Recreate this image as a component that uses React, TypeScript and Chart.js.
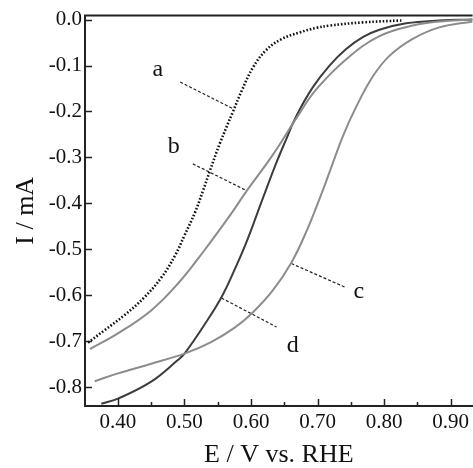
import React, { useEffect, useRef } from "react";
import { Chart, registerables } from "chart.js";

Chart.register(...registerables);

// Curve a (dotted)
const xA = [0.355, 0.38, 0.41, 0.44, 0.466, 0.486, 0.5, 0.516, 0.528, 0.538, 0.553, 0.573, 0.586, 0.603, 0.623, 0.645, 0.673, 0.698, 0.718, 0.768, 0.826];
const yA = [-0.703, -0.676, -0.643, -0.604, -0.56, -0.513, -0.47, -0.419, -0.372, -0.33, -0.27, -0.2, -0.155, -0.104, -0.066, -0.043, -0.028, -0.018, -0.013, -0.006, -0.002];
// Curve b
const xB = [0.358, 0.4, 0.45, 0.49, 0.53, 0.57, 0.593, 0.633, 0.668, 0.698, 0.744, 0.793, 0.843, 0.893, 0.933];
const yB = [-0.717, -0.683, -0.633, -0.575, -0.502, -0.423, -0.374, -0.294, -0.215, -0.152, -0.085, -0.036, -0.013, -0.003, 0.0];
// Curve c
const xC = [0.365, 0.4, 0.45, 0.5, 0.54, 0.576, 0.603, 0.633, 0.661, 0.683, 0.703, 0.718, 0.738, 0.758, 0.783, 0.808, 0.843, 0.883, 0.933];
const yC = [-0.787, -0.77, -0.749, -0.727, -0.702, -0.67, -0.637, -0.589, -0.528, -0.462, -0.39, -0.332, -0.254, -0.19, -0.124, -0.079, -0.042, -0.017, -0.004];
// Curve d
const xD = [0.375, 0.4, 0.45, 0.49, 0.5, 0.53, 0.556, 0.576, 0.593, 0.618, 0.638, 0.653, 0.668, 0.693, 0.718, 0.743, 0.768, 0.793, 0.833, 0.883, 0.933];
const yD = [-0.836, -0.825, -0.788, -0.741, -0.727, -0.664, -0.603, -0.542, -0.485, -0.388, -0.312, -0.26, -0.21, -0.147, -0.1, -0.064, -0.038, -0.022, -0.008, -0.002, 0.0];

// Leader lines (from label to curve)
const leadAX = [0.4936, 0.5731];
const leadAY = [-0.136, -0.194];
const leadBX = [0.5126, 0.5932];
const leadBY = [-0.314, -0.372];
const leadCX = [0.6608, 0.7408];
const leadCY = [-0.531, -0.582];
const leadDX = [0.5557, 0.6383];
const leadDY = [-0.606, -0.669];

// Curve labels (baseline positions)
const labelText = ["a", "b", "c", "d"];
const labelX = [0.46, 0.484, 0.762, 0.6627];
const labelY = [-0.1217, -0.291, -0.607, -0.724];

// Ticks
const xTicks = [0.4, 0.5, 0.6, 0.7, 0.8, 0.9];
const xMinorTicks = [0.45, 0.55, 0.65, 0.75, 0.85];
const yTicks = [0.0, -0.1, -0.2, -0.3, -0.4, -0.5, -0.6, -0.7, -0.8];

const xMin = 0.3505;
const xMax = 0.933;
const yMin = -0.841;
const yMax = 0.0087;

const FONT = '"Liberation Serif", "Times New Roman", serif';

const pts = (xs: number[], ys: number[]) => xs.map((x, i) => ({ x, y: ys[i] }));

const decorPlugin = {
  id: "decor",
  afterDatasetsDraw(chart: any) {
    const { ctx, chartArea: ca, scales } = chart;
    const xs = scales.x;
    const ys = scales.y;
    ctx.save();
    ctx.strokeStyle = "#222";
    // top border
    ctx.lineWidth = 2;
    ctx.beginPath();
    ctx.moveTo(ca.left - 1, ca.top);
    ctx.lineTo(ca.right, ca.top);
    ctx.stroke();
    // inward ticks
    ctx.lineWidth = 1.5;
    ctx.beginPath();
    xTicks.forEach((v) => {
      const px = Math.round(xs.getPixelForValue(v)) + 0.5;
      ctx.moveTo(px, ca.bottom);
      ctx.lineTo(px, ca.bottom - 7);
    });
    xMinorTicks.forEach((v) => {
      const px = Math.round(xs.getPixelForValue(v)) + 0.5;
      ctx.moveTo(px, ca.bottom);
      ctx.lineTo(px, ca.bottom - 4);
    });
    yTicks.forEach((v) => {
      const py = Math.round(ys.getPixelForValue(v)) + 0.5;
      ctx.moveTo(ca.left, py);
      ctx.lineTo(ca.left + 7, py);
    });
    ctx.stroke();
    // labels
    ctx.fillStyle = "#111";
    ctx.font = `24px ${FONT}`;
    ctx.textAlign = "center";
    ctx.textBaseline = "alphabetic";
    labelText.forEach((t, i) => {
      ctx.fillText(t, xs.getPixelForValue(labelX[i]), ys.getPixelForValue(labelY[i]));
    });
    ctx.restore();
  },
};

export default function App() {
  const ref = useRef<HTMLCanvasElement | null>(null);

  useEffect(() => {
    document.body.style.margin = "0";
    if (!ref.current) return;
    const leader = (xs: number[], ys: number[]) => ({
      data: pts(xs, ys),
      borderColor: "#222",
      borderWidth: 1.2,
      borderDash: [3, 2],
      pointRadius: 0,
      tension: 0,
    });
    const curve = (xs: number[], ys: number[], color: string, width: number, dash: number[] = []) => ({
      data: pts(xs, ys),
      borderColor: color,
      borderWidth: width,
      borderDash: dash,
      pointRadius: 0,
      tension: 0.4,
    });
    const chart = new Chart(ref.current, {
      type: "line",
      data: {
        datasets: [
          curve(xA, yA, "#111", 2.6, [1.6, 1.9]),
          curve(xB, yB, "#8c8c8c", 2),
          curve(xC, yC, "#8c8c8c", 2),
          curve(xD, yD, "#3c3c3c", 2),
          leader(leadAX, leadAY),
          leader(leadBX, leadBY),
          leader(leadCX, leadCY),
          leader(leadDX, leadDY),
        ] as any,
      },
      options: {
        responsive: false,
        animation: false,
        layout: { padding: { top: 15, right: 0, left: 0, bottom: 0 } },
        plugins: {
          legend: { display: false },
          tooltip: { enabled: false },
        },
        scales: {
          x: {
            type: "linear",
            min: xMin,
            max: xMax,
            afterBuildTicks: (a: any) => {
              a.ticks = xTicks.map((v) => ({ value: v }));
            },
            afterFit: (a: any) => {
              a.height = 62;
            },
            grid: { display: false, drawTicks: false },
            border: { display: true, color: "#222", width: 2 },
            ticks: {
              autoSkip: false,
              maxRotation: 0,
              padding: 4,
              color: "#111",
              font: { family: FONT, size: 21 },
              callback: (v: any) => Number(v).toFixed(2),
            },
            title: {
              display: true,
              text: "E / V vs. RHE",
              color: "#111",
              font: { family: FONT, size: 26, lineHeight: 1 },
              padding: { top: 0, bottom: 0 },
            },
          },
          y: {
            type: "linear",
            min: yMin,
            max: yMax,
            afterBuildTicks: (a: any) => {
              a.ticks = yTicks.map((v) => ({ value: v }));
            },
            afterFit: (a: any) => {
              a.width = 85;
            },
            grid: { display: false, drawTicks: false },
            border: { display: true, color: "#222", width: 2 },
            ticks: {
              autoSkip: false,
              padding: 3,
              color: "#111",
              font: { family: FONT, size: 21 },
              callback: (v: any) => (Math.abs(Number(v)) < 1e-9 ? "0.0" : Number(v).toFixed(1)),
            },
            title: {
              display: true,
              text: "I / mA",
              color: "#111",
              font: { family: FONT, size: 26, lineHeight: 1 },
              padding: { top: 13, bottom: 0 },
            },
          },
        },
      } as any,
      plugins: [decorPlugin],
    });
    return () => chart.destroy();
  }, []);

  return (
    <div style={{ width: 473, height: 468 }}>
      <canvas ref={ref} width={473} height={468} style={{ display: "block" }} />
    </div>
  );
}
